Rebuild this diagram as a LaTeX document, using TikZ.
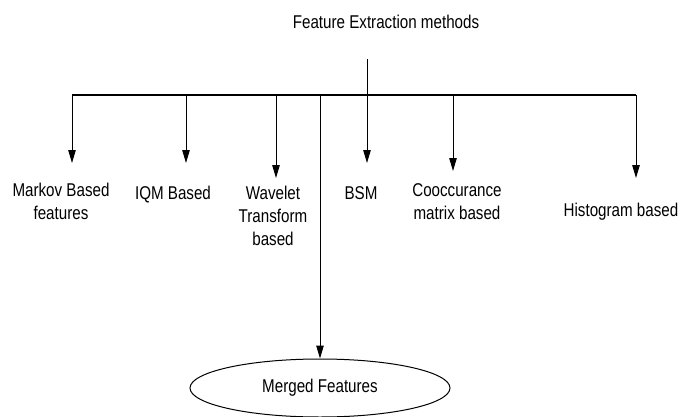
\documentclass[tikz,border=0pt]{standalone}
\usepackage{fontspec}
\setmainfont{Liberation Sans}[FakeStretch=0.82]
\usetikzlibrary{arrows.meta, positioning, shapes.geometric}
\tikzset{
>={Triangle[length=13pt,width=7.5pt]},
black!90,
text=black,
lbl/.style={%
    align=center,
    inner sep=0pt,
    font=\fontsize{18.5}{23}\selectfont
},
bus/.style={line width=1.8pt},
branch/.style={->, line width=1pt},
merge/.style={%
    ellipse,
    draw,
    line width=1pt,
    minimum width=260pt,
    minimum height=58pt,
    font=\fontsize{18.5}{23}\selectfont
},
}

\begin{document}
\begin{tikzpicture}[x=1pt,y=-1pt]
	\useasboundingbox (0,0) rectangle (690,417);
	\node[lbl] (title) at (386,22) {Feature Extraction methods};
	\coordinate (stem) at (367,59);
	% junctions on the bus
	\coordinate (jmk) at (72,95);
	\coordinate (jiqm) at (186,95);
	\coordinate (jwt) at (276,95);
	\coordinate (jmg) at (320,95);
	\coordinate (jbsm) at (367,95);
	\coordinate (jco) at (453,95);
	\coordinate (jhi) at (636,95);
	% arrow ends
	\coordinate (tmk) at (72,163);
	\coordinate (tiqm) at (186,163);
	\coordinate (twt) at (276,178);
	\coordinate (tbsm) at (367,163);
	\coordinate (tco) at (453,171);
	\coordinate (thi) at (636,178);

	\node[lbl, anchor=north] (mk) at (61,183) {Markov Based\\features};
	\node[lbl, anchor=north] (iqm) at (173,186) {IQM Based};
	\node[lbl, anchor=north] (wt) at (273,186) {Wavelet\\Transform\\based};
	\node[lbl, anchor=north] (bsm) at (361,186) {BSM};
	\node[lbl, anchor=north] (co) at (457,183) {Cooccurance\\matrix based};
	\node[lbl, anchor=north] (hi) at (621,203) {Histogram based};
	\node[merge] (merged) at (320,388) {Merged Features};

	\draw[bus] (jmk) -- (jhi);
	\draw[line width=1pt] (stem) -- (jbsm);
	\foreach \j/\t in {jmk/tmk, jiqm/tiqm, jwt/twt, jbsm/tbsm, jco/tco, jhi/thi}
		\draw[branch] (\j) -- (\t);
	\draw[branch] (jmg) -- (merged);
\end{tikzpicture}
\end{document}
